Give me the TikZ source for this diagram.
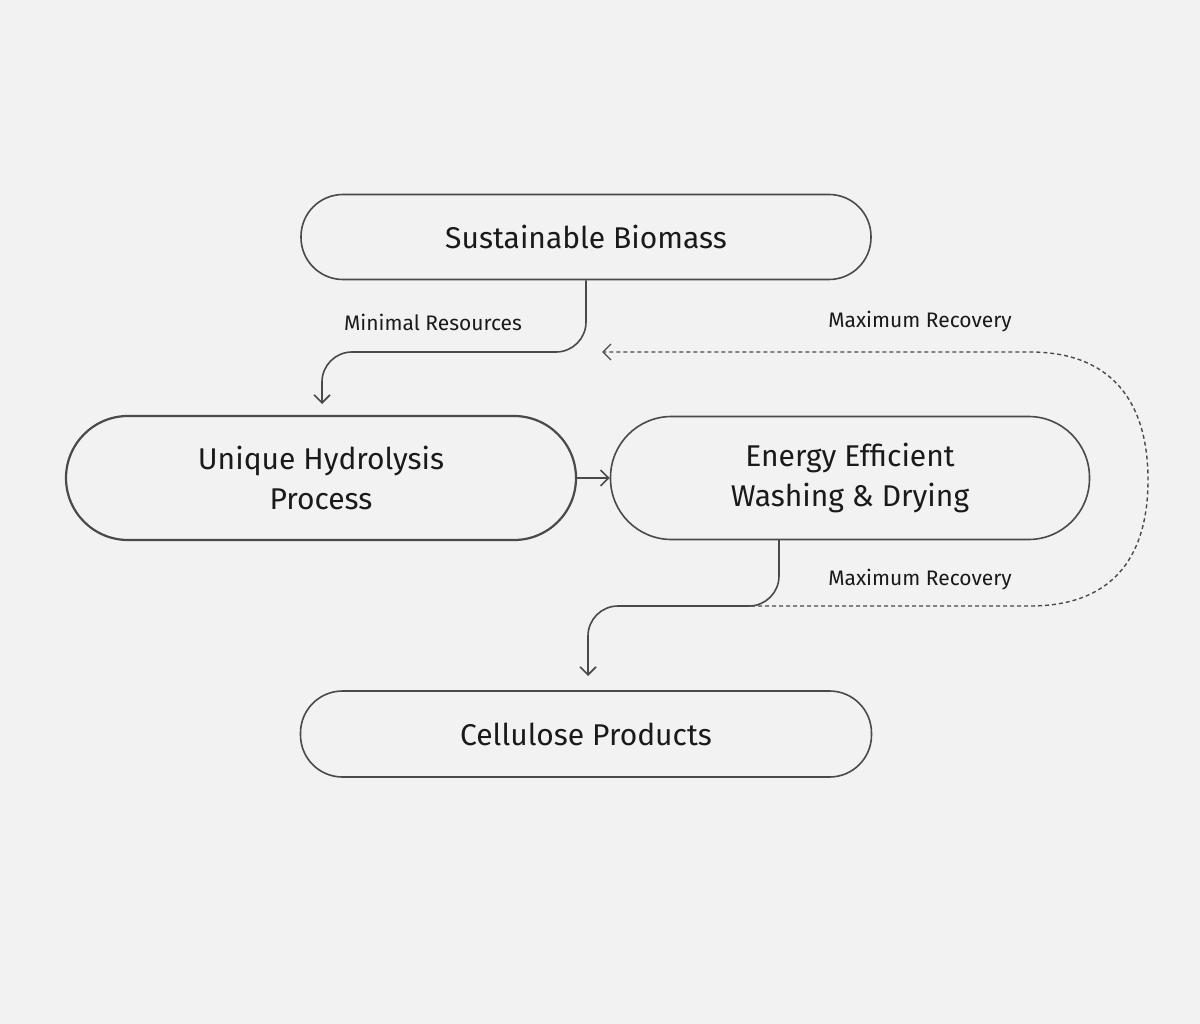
\documentclass[tikz,border=0pt]{standalone}
\usepackage{fontspec}
\setmainfont{Fira Sans}
\usetikzlibrary{arrows.meta}
\definecolor{bg}{HTML}{F2F2F2}
\definecolor{ln}{HTML}{4A4A4A}
\definecolor{tx}{HTML}{1A1A1A}
\begin{document}
\begin{tikzpicture}[x=1pt,y=-1pt,
  box/.style={draw=ln,line width=1.6pt,rectangle,rounded corners=42pt,inner sep=0pt,text=tx,font=\fontsize{30}{40}\selectfont,align=center},
  lbl/.style={text=tx,font=\fontsize{21}{25}\selectfont,inner sep=0pt},
  con/.style={draw=ln,line width=1.6pt,rounded corners=30pt,-{Straight Barb[length=8pt,width=16pt]}},
  dsh/.style={draw=ln,line width=1.4pt,dash pattern=on 4pt off 3pt,-{Straight Barb[length=8pt,width=16pt]}}]
\fill[bg] (0,0) rectangle (1200,1024);
\useasboundingbox (0,0) rectangle (1200,1024);
\node[box,minimum width=570,minimum height=85] (bio) at (586,237) {Sustainable Biomass};
\node[box,line width=2.2pt,minimum width=510,minimum height=124,rounded corners=62pt] (hyd) at (321,478) {Unique Hydrolysis\\Process};
\node[box,minimum width=479,minimum height=123,rounded corners=61pt] (ene) at (850,478) {Energy Efficient\\Washing \& Drying};
\node[box,minimum width=571,minimum height=86] (cel) at (586,734) {Cellulose Products};
\node[lbl] (l1) at (433,322) {Minimal Resources};
\node[lbl] (l2) at (920,322) {Maximum Recovery};
\node[lbl] (l3) at (920,580) {Maximum Recovery};
\coordinate (a1) at (322,404);
\coordinate (a2) at (588,676);
\coordinate (a3) at (602,352);
\draw[con] (bio.south) -- (586,352) -- (322,352) -- (a1);
\draw[draw=ln,line width=1.6pt,-{Straight Barb[length=8pt,width=16pt]}] (hyd.east) -- (ene.west);
\draw[con] (779,540) -- (779,606) -- (588,606) -- (a2);
\draw[dsh] (744,606) -- (1030,606) .. controls (1110,606) and (1148,560) .. (1148,480) .. controls (1148,400) and (1110,352) .. (1030,352) -- (a3);
\end{tikzpicture}
\end{document}
